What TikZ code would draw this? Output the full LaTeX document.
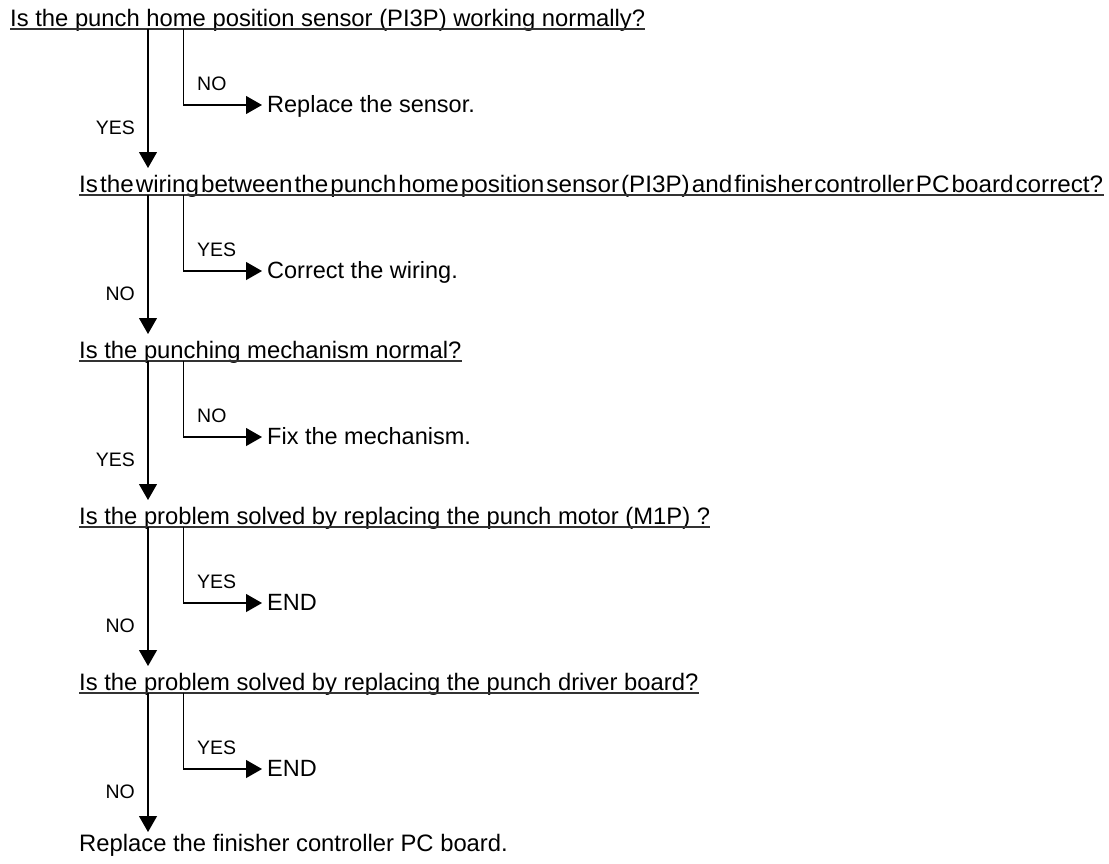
\documentclass[tikz,border=0pt]{standalone}
\usepackage{fontspec}
\setmainfont{Liberation Sans}
\usetikzlibrary{arrows.meta}
\begin{document}
\begin{tikzpicture}[x=1pt,y=-1pt,
  q/.style={anchor=base west, inner sep=0pt, font=\fontsize{23.8}{28}\selectfont},
  act/.style={anchor=base west, inner sep=0pt, font=\fontsize{23.5}{28}\selectfont},
  lblr/.style={anchor=base west, inner sep=0pt, font=\fontsize{19.5}{23}\selectfont},
  lbll/.style={anchor=base east, inner sep=0pt, font=\fontsize{19.5}{23}\selectfont},
  arr/.style={-{Triangle[length=16pt,width=18pt]}, line width=1.1pt},
  ul/.style={line width=1.3pt, draw=black!80}]
\useasboundingbox (0,0) rectangle (1109,863);
% questions
\node[q] (q1) at (10,26.5) {Is the punch home position sensor (PI3P) working normally?};
\node[q] (q2) at (79,192.5) {\resizebox{1024pt}{\height}{\spaceskip=2pt\relax Is the wiring between the punch home position sensor (PI3P) and finisher controller PC board correct?}};
\node[q] (q3) at (79,358.5) {Is the punching mechanism normal?};
\node[q] (q4) at (79,524.5) {Is the problem solved by replacing the punch motor (M1P) ?};
\node[q] (q5) at (79,690.5) {Is the problem solved by replacing the punch driver board?};
\node[q] (q6) at (79,851) {Replace the finisher controller PC board.};
% underlines
\foreach \i in {1,...,5} {
  \draw[ul] ([yshift=-2.5pt]q\i.base west) -- ([yshift=-2.5pt]q\i.base east);
}
% actions
\node[act] (r1) at (267,112) {Replace the sensor.};
\node[act] (r2) at (267,278) {Correct the wiring.};
\node[act] (r3) at (267,444) {Fix the mechanism.};
\node[act] (r4) at (267,610) {END};
\node[act] (r5) at (267,776) {END};
% labels
\node[lblr] (n1) at (197,90) {NO};
\node[lblr] (n2) at (197,256) {YES};
\node[lblr] (n3) at (197,422) {NO};
\node[lblr] (n4) at (197,588) {YES};
\node[lblr] (n5) at (197,754) {YES};
\node[lbll] (m1) at (135,134) {YES};
\node[lbll] (m2) at (135,300) {NO};
\node[lbll] (m3) at (135,466) {YES};
\node[lbll] (m4) at (135,632) {NO};
\node[lbll] (m5) at (135,798) {NO};
% branch points and arrow tips
\foreach \i/\u in {1/29,2/195,3/361,4/527,5/693} {
  \coordinate (s\i) at (148,\u);
  \coordinate (b\i) at (183.5,\u);
  \coordinate (t\i) at (148,\u+139);
}
\foreach \i in {1,...,5} {
  \draw[arr] (s\i) -- (t\i);
  \draw[arr] (b\i) |- ([xshift=-5pt,yshift=7pt]r\i.base west);
}
\end{tikzpicture}
\end{document}
